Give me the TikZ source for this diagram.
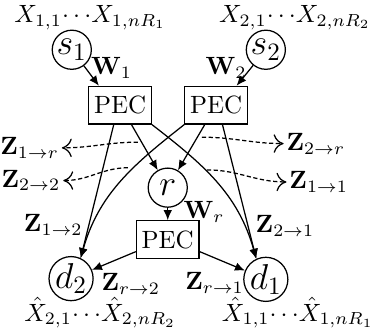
\documentclass[tikz,border=0pt]{standalone}
\usepackage{amsmath,amssymb}
\usepackage{tikz}
\usetikzlibrary{arrows.meta,calc}

\begin{document}
\begin{tikzpicture}[x=1cm,y=1cm,
  >={Latex[length=1.4mm,width=1.2mm]},
  nd/.style={draw, line width=0.5pt, circle, minimum size=0.55cm, inner sep=0pt, font=\Large},
  pec/.style={draw, line width=0.5pt, minimum width=0.88cm, minimum height=0.53cm, inner sep=1pt},
  lnk/.style={draw=black, line width=0.5pt},
  zarr/.style={draw=black, line width=0.5pt, dash pattern=on 1.7pt off 1pt, -{To[length=1.4mm,width=2.6mm]}},
  zl/.style={inner sep=1pt},
]
\useasboundingbox (0,0) rectangle (5.36,-4.71);
% ---------------- sources ----------------
\node[zl] (xone) at (1.27,-0.25) {$X_{1,1}\!\cdots\! X_{1,nR_1}$};
\node[zl] (xtwo) at (4.15,-0.25) {$X_{2,1}\!\cdots\! X_{2,nR_2}$};
\node[nd] (s1) at (1.01,-0.70) {$s_1$};
\node[nd] (s2) at (3.74,-0.70) {$s_2$};
\node[pec] (pec1) at (1.69,-1.48) {PEC};
\node[pec] (pec2) at (3.04,-1.48) {PEC};
\node[zl] (w1) at (1.57,-0.96) {$\mathbf{W}_1$};
\node[zl] (w2) at (3.18,-0.96) {$\mathbf{W}_2$};
\draw[lnk,->] (s1) -- ([xshift=0.15cm]pec1.north west);
\draw[lnk,->] (s2) -- ([xshift=-0.16cm]pec2.north east);
% ---------------- relay ----------------
\node[nd] (r) at (2.36,-2.64) {$r$};
\node[pec] (pec3) at (2.36,-3.37) {PEC};
\node[zl] (wr) at (2.87,-2.98) {$\mathbf{W}_r$};
\draw[lnk,->] ([xshift=0.16cm]pec1.south) -- (r);
\draw[lnk,->] ([xshift=-0.16cm]pec2.south) -- (r);
\draw[lnk,->] (r) -- (pec3);
% ---------------- destinations ----------------
\node[nd] (d2) at (1.00,-3.92) {$d_2$};
\node[nd] (d1) at (3.74,-3.93) {$d_1$};
\node[zl] (xhtwo) at (1.41,-4.40) {$\hat{X}_{2,1}\!\cdots\!\hat{X}_{2,nR_2}$};
\node[zl] (xhone) at (4.19,-4.40) {$\hat{X}_{1,1}\!\cdots\!\hat{X}_{1,nR_1}$};
\draw[lnk,->] ([xshift=-0.09cm]pec1.south) -- (d2.65);
\draw[lnk,->] ([xshift=0.09cm]pec2.south) -- (d1.115);
\draw[lnk,->] (pec2.south west) .. controls (1.87,-2.32) and (1.39,-2.73) .. (d2.65);
\draw[lnk,->] (pec1.south east) .. controls (2.87,-2.32) and (3.35,-2.73) .. (d1.115);
\draw[lnk,->] ([yshift=-0.17cm]pec3.west) -- (d2);
\draw[lnk,->] ([yshift=-0.17cm]pec3.east) -- (d1);
% ---------------- overheard signals ----------------
\node[zl, anchor=east] (z1r) at (0.87,-2.08) {$\mathbf{Z}_{1\to r}$};
\node[zl, anchor=east] (z22) at (0.89,-2.54) {$\mathbf{Z}_{2\to 2}$};
\node[zl, anchor=west] (z2r) at (3.99,-2.02) {$\mathbf{Z}_{2\to r}$};
\node[zl, anchor=west] (z11) at (4.03,-2.56) {$\mathbf{Z}_{1\to 1}$};
\coordinate (c1r) at (1.94,-2.00);
\coordinate (c22) at (1.80,-2.36);
\coordinate (c2r) at (2.84,-1.93);
\coordinate (c11) at (2.91,-2.39);
\draw[zarr] (c1r) to[out=180,in=0] (z1r);
\draw[zarr] (c22) to[out=180,in=0] (z22);
\draw[zarr] (c2r) to[out=0,in=180] (z2r);
\draw[zarr] (c11) to[out=0,in=180] (z11);
\node[zl] (z12) at (0.75,-3.16) {$\mathbf{Z}_{1\to 2}$};
\node[zl] (z21) at (4.01,-3.18) {$\mathbf{Z}_{2\to 1}$};
\node[zl] (zr2) at (1.84,-3.99) {$\mathbf{Z}_{r\to 2}$};
\node[zl] (zr1) at (3.02,-3.98) {$\mathbf{Z}_{r\to 1}$};
\end{tikzpicture}
\end{document}
